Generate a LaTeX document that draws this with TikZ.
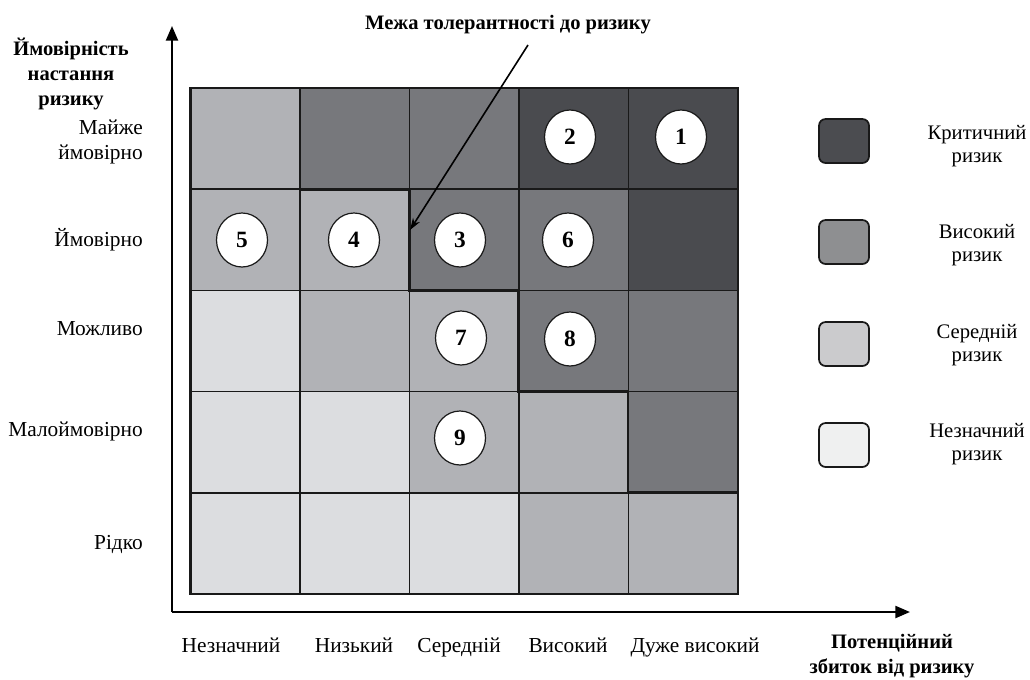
\documentclass[tikz,border=0pt]{standalone}
\usepackage{fontspec}
\setmainfont{Liberation Serif}
\usetikzlibrary{arrows.meta,shapes.geometric}
\definecolor{crit}{HTML}{4A4B4F}
\definecolor{high}{HTML}{77787C}
\definecolor{med}{HTML}{B1B2B6}
\definecolor{low}{HTML}{DCDDE0}
\definecolor{lcrit}{HTML}{4B4C50}
\definecolor{lhigh}{HTML}{8E8F91}
\definecolor{lmed}{HTML}{CBCBCD}
\definecolor{llow}{HTML}{EFF0F0}
\tikzset{
  gridline/.style={line width=1.1pt,draw=black!90},
  frameline/.style={line width=2pt,draw=black!90},
  tolline/.style={line width=2.2pt,draw=black!90,line cap=rect},
  axisline/.style={line width=1.7pt,-{Triangle[length=11pt,width=9pt]}},
  num/.style={ellipse,draw=black!90,line width=0.9pt,fill=white,minimum width=38.25pt,minimum height=40.5pt,inner sep=0pt,font=\fontsize{17.5}{19}\selectfont\bfseries},
  lbl/.style={font=\fontsize{16}{18}\selectfont,inner sep=0pt},
  blbl/.style={font=\fontsize{15.4}{18.5}\selectfont\bfseries,inner sep=0pt,align=center},
  leg/.style={rounded corners=5pt,line width=1.3pt,draw=black!90,minimum width=37.5pt,minimum height=33pt,inner sep=0pt},
  legtxt/.style={font=\fontsize{15.5}{17.5}\selectfont,align=center,inner sep=0pt},
}
\begin{document}
\begin{tikzpicture}[x=0.75pt,y=-0.75pt]
\useasboundingbox (0,0) rectangle (1030,679);
% cells
\foreach \row [count=\ri] in {{med,high,high,crit,crit},{med,med,high,high,crit},{low,med,med,high,high},{low,low,med,med,high},{low,low,low,med,med}}{
  \foreach \col [count=\ci] in \row {
    \fill[\col] ({190.5+109.5*(\ci-1)},{88+101.2*(\ri-1)}) rectangle ++(109.5,101.2);
  }
}
% grid lines
\foreach \i in {1,...,4}{
  \draw[gridline] ({190.5+109.5*\i},88) -- ({190.5+109.5*\i},594);
  \draw[gridline] (190.5,{88+101.2*\i}) -- (738,{88+101.2*\i});
}
\draw[frameline] (190.5,88) rectangle (738,594);
% tolerance boundary
\draw[tolline] (300,88) -- (300,189.2) -- (409.5,189.2) -- (409.5,290.4) -- (518.5,290.4) -- (518.5,391.6) -- (628,391.6) -- (628,492.8) -- (738,492.8);
% axes
\coordinate (O) at (172,612);
\coordinate (ytip) at (172,26);
\coordinate (xtip) at (910,612);
\draw[axisline] (O) -- (ytip);
\draw[axisline] (O) -- (xtip);
% numbered risks
\node[num] (r1) at (681,137) {1};
\node[num] (r2) at (570,137) {2};
\node[num] (r5) at (242,240) {5};
\node[num] (r4) at (354,240) {4};
\node[num] (r3) at (460,240) {3};
\node[num] (r6) at (568,240) {6};
\node[num] (r7) at (461,338) {7};
\node[num] (r8) at (570,339) {8};
\node[num] (r9) at (460,438) {9};
% title and arrow
\node[blbl] (tol) at (508,25) {Межа толерантності до ризику};
\coordinate (arrS) at (528,45);
\coordinate (arrE) at (410,230);
\draw[line width=1.2pt,-{Stealth[length=9pt,width=6pt]}] (arrS) -- (arrE);
% y axis labels
\node[blbl] (ylab) at (71,74) {Ймовірність\\настання\\ризику};
\node[lbl,anchor=base east] (y1a) at (143,134) {Майже};
\node[lbl,anchor=base east] (y1b) at (143,159) {ймовірно};
\node[lbl,anchor=base east] (y2) at (143,246) {Ймовірно};
\node[lbl,anchor=base east] (y3) at (143,335) {Можливо};
\node[lbl,anchor=base east] (y4) at (143,436) {Малоймовірно};
\node[lbl,anchor=base east] (y5) at (143,549) {Рідко};
% x axis labels
\node[lbl,anchor=base] (x1) at (231,652) {Незначний};
\node[lbl,anchor=base] (x2) at (354,652) {Низький};
\node[lbl,anchor=base] (x3) at (459,652) {Середній};
\node[lbl,anchor=base] (x4) at (568,652) {Високий};
\node[lbl,anchor=base] (x5) at (695,652) {Дуже високий};
\node[blbl] (xlab) at (892,656) {Потенційний\\збиток від ризику};
% legend
\node[leg,fill=lcrit] (l1) at (844,141) {};
\node[leg,fill=lhigh] (l2) at (844,242) {};
\node[leg,fill=lmed] (l3) at (844,344) {};
\node[leg,fill=llow] (l4) at (844,445) {};
\node[legtxt] (t1) at (977,146) {Критичний\\ризик};
\node[legtxt] (t2) at (977,245) {Високий\\ризик};
\node[legtxt] (t3) at (977,345) {Середній\\ризик};
\node[legtxt] (t4) at (977,444) {Незначний\\ризик};
\end{tikzpicture}
\end{document}
